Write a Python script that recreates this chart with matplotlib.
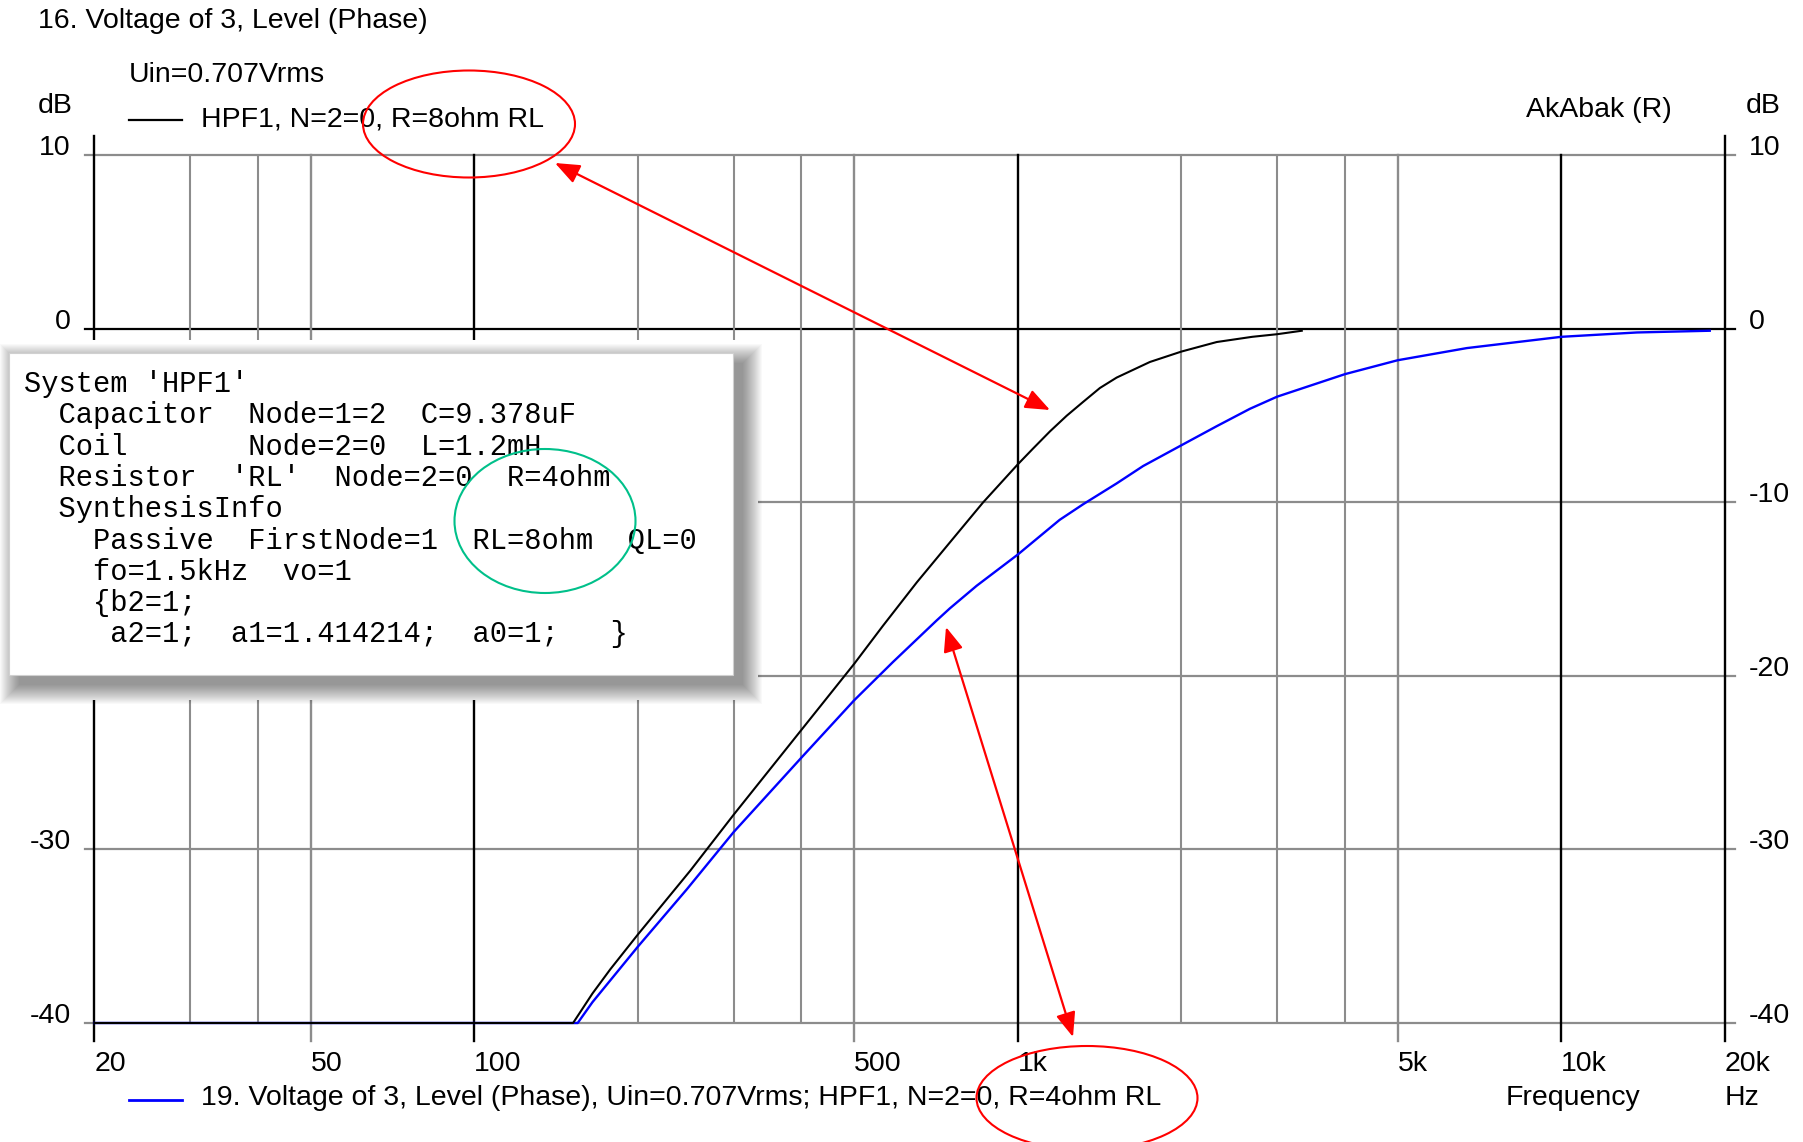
import matplotlib
matplotlib.use("Agg")
import matplotlib.pyplot as plt
from matplotlib import font_manager
from matplotlib.patches import Ellipse, Rectangle

# level, matched 8 ohm load (black) and 4 ohm load (blue)
freq_8ohm = [20, 152, 165, 178, 200, 250, 300, 400, 500, 565, 652, 750, 863, 1000,
             1066, 1146, 1230, 1319, 1416, 1520, 1750, 2000, 2323, 2700, 3000, 3330]
level_8ohm = [-40, -40, -38.3, -36.9, -34.9, -31.2, -28.0, -23.1, -19.3, -17.1, -14.6,
              -12.3, -10.0, -7.8, -6.9, -5.9, -5.0, -4.2, -3.4, -2.8, -1.9, -1.3, -0.75,
              -0.45, -0.3, -0.1]

freq_4ohm = [20, 155, 165, 200, 246, 300, 400, 500, 589, 709, 750, 840, 1000, 1194,
             1319, 1520, 1700, 2000, 2323, 2673, 3000, 4000, 5000, 6700, 10000, 13770,
             18750]
level_4ohm = [-40, -40, -38.8, -35.6, -32.3, -29.0, -24.7, -21.4, -19.2, -16.8, -16.1,
              -14.8, -13.0, -11.0, -10.1, -8.9, -7.9, -6.7, -5.6, -4.6, -3.9, -2.6,
              -1.8, -1.1, -0.45, -0.2, -0.1]

x_ticks = [20, 50, 100, 500, 1000, 5000, 10000, 20000]
x_labels = ["20", "50", "100", "500", "1k", "5k", "10k", "20k"]
x_grid = [30, 40, 200, 300, 400, 2000, 3000, 4000]
y_ticks = [10, 0, -10, -20, -30, -40]
y_hidden_left = [-10, -20]   # covered by the pasted netlist in the original

netlist = [
    "System 'HPF1'",
    "  Capacitor  Node=1=2  C=9.378uF",
    "  Coil       Node=2=0  L=1.2mH",
    "  Resistor  'RL'  Node=2=0  R=4ohm",
    "  SynthesisInfo",
    "    Passive  FirstNode=1  RL=8ohm  QL=0",
    "    fo=1.5kHz  vo=1",
    "    {b2=1;",
    "     a2=1;  a1=1.414214;  a0=1;   }",
]

names = {f.name for f in font_manager.fontManager.ttflist}
if "Liberation Sans Narrow" in names:
    SANS, FS = "Liberation Sans Narrow", 24
else:
    SANS, FS = "Liberation Sans", 20.5
plt.rcParams["font.family"] = [SANS, "DejaVu Sans"]

W, H = 1803, 1142
GREY = "#8c8c8c"

fig = plt.figure(figsize=(W / 100, H / 100), dpi=100)
fig.patch.set_facecolor("white")
ax = fig.add_axes([94.3 / W, 1 - 1023 / H, (1725 - 94.3) / W, (1023 - 155.5) / H])
ax.set_xscale("log")
ax.set_xlim(20, 20000)
ax.set_ylim(-40, 10)
for s in ax.spines.values():
    s.set_visible(False)

# grid, drawn by hand to get the AkAbak look (ticks stick out past the frame)
for y in y_ticks:
    ax.axhline(y, xmin=-0.006, xmax=1.006, color="black" if y == 0 else GREY,
               lw=1.6, clip_on=False, zorder=1)
for f in x_grid:
    ax.axvline(f, color=GREY, lw=1.5, zorder=1)
for f in x_ticks:
    col = "black" if f in (20, 100, 1000, 10000, 20000) else GREY
    top = 1.0225 if f in (20, 20000) else 1.0
    ax.axvline(f, ymin=-0.021, ymax=top, color=col, lw=1.7, clip_on=False, zorder=1)

ax.plot(freq_4ohm, level_4ohm, color="#0000ff", lw=1.7, zorder=3, clip_on=False)
ax.plot(freq_8ohm, level_8ohm, color="black", lw=1.5, zorder=4, clip_on=False)

ax.set_xticks(x_ticks)
ax.set_xticklabels(x_labels)
ax.minorticks_off()
ax.set_yticks(y_ticks)
ax.set_yticklabels([str(v) for v in y_ticks])
ax.tick_params(axis="both", length=0, labelsize=FS)
ax.tick_params(axis="x", pad=20)
ax.tick_params(axis="y", labelleft=True, labelright=True, pad=17)
for t in ax.xaxis.get_major_ticks():
    t.label1.set_ha("left")
for v, t in zip(y_ticks, ax.yaxis.get_major_ticks()):
    t.label1.set_va("baseline")
    t.label2.set_va("baseline")
    if v in y_hidden_left:
        t.label1.set_visible(False)

# overlay in pixel coordinates for labels, inset box and markup
ov = fig.add_axes([0, 0, 1, 1], zorder=5)
ov.set_xlim(0, W)
ov.set_ylim(H, 0)
ov.axis("off")

ov.text(38, 21, "16. Voltage of 3, Level (Phase)", fontsize=FS, va="center")
ov.text(129, 75, "Uin=0.707Vrms", fontsize=FS, va="center")
ov.text(38, 106, "dB", fontsize=FS, va="center")
ov.text(1746, 106, "dB", fontsize=FS, va="center")
ov.plot([129, 182], [120, 120], color="black", lw=1.6)
ov.text(201, 120, "HPF1, N=2=0, R=8ohm RL", fontsize=FS, va="center")
ov.text(1526, 110, "AkAbak (R)", fontsize=FS, va="center")
ov.plot([129, 182], [1100, 1100], color="#0000ff", lw=2)
ov.text(201, 1098, "19. Voltage of 3, Level (Phase), Uin=0.707Vrms; HPF1, N=2=0, R=4ohm RL",
        fontsize=FS, va="center")
ov.text(1506, 1098, "Frequency", fontsize=FS, va="center")
ov.text(1725, 1098, "Hz", fontsize=FS, va="center")

# pasted netlist box with a soft shadow to the lower right
ov.add_patch(Rectangle((0, 340), 758, 360, fc="white", ec="none", zorder=1))
bx, by, bw, bh = 9, 353, 724, 322
d, n = 10, 20
for k in range(n):
    ov.add_patch(Rectangle((bx + d - k, by + d - k), bw + 2 * k, bh + 2 * k,
                           fc="black", ec="none", alpha=0.024, zorder=2))
ov.add_patch(Rectangle((bx, by), bw, bh, fc="white", ec="#d0d0d0", lw=0.8, zorder=3))
for i, line in enumerate(netlist):
    ov.text(24, 381 + i * 31.3, line, family="Liberation Mono", fontsize=20.7,
            va="center_baseline", zorder=4)

# red / green markup
ov.add_patch(Ellipse((469, 124), 212, 107, fill=False, ec="red", lw=1.5, zorder=6))
ov.add_patch(Ellipse((1087, 1098), 221, 104, fill=False, ec="red", lw=1.5, zorder=6))
ov.add_patch(Ellipse((545, 521), 181, 144, fill=False, ec="#00c08a", lw=1.5, zorder=6))
arrow = dict(arrowstyle="<|-|>,head_length=0.75,head_width=0.3", color="red", lw=1.6,
             shrinkA=0, shrinkB=0, mutation_scale=20)
ov.annotate("", xy=(1050, 410), xytext=(555, 163), arrowprops=arrow, zorder=6)
ov.annotate("", xy=(1073, 1037), xytext=(946, 627), arrowprops=arrow, zorder=6)

fig.savefig("out.png", dpi=100, facecolor="white")
